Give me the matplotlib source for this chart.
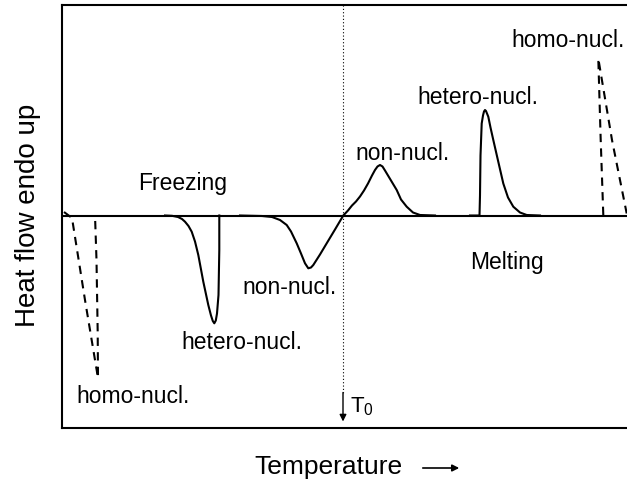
import matplotlib
matplotlib.use('Agg')
import matplotlib.pyplot as plt

plt.rcParams['font.family'] = ['Liberation Sans', 'DejaVu Sans']
plt.rcParams['mathtext.fontset'] = 'custom'
plt.rcParams['mathtext.rm'] = 'Liberation Sans'
plt.rcParams['mathtext.it'] = 'Liberation Sans'

# curves (temperature in arbitrary units, heat flow, endo up)
homo_freeze_t = [64, 72, 85, 98, 97.7, 96.5, 95]
homo_freeze_q = [3.5, -2.5, -84.5, -162.5, -117.5, -44.5, 0.5]

hetero_freeze_t = [165, 172, 178, 182, 185, 188.5, 191.7, 195, 198.3, 203.3, 208.3,
                   211, 212.8, 214.3, 215.8, 217, 218.5, 219.3, 219.3]
hetero_freeze_q = [0, -0.3, -1.5, -3.5, -6.2, -10.5, -16.2, -26, -39.5, -66.2, -89.5,
                   -100, -105.5, -107.8, -105, -98, -79.5, -34.5, 0]

non_t = [240, 262, 272, 280, 286.7, 291, 296.7, 301, 305, 308.3, 311, 313.3, 320, 326.7,
         335, 343.3, 348, 352, 356, 360, 364, 368, 372, 375, 377.5, 380, 382.5, 385,
         388, 391, 394, 396.7, 401, 406.7, 413, 420, 435]
non_q = [0, -0.5, -1.5, -4.5, -9.5, -16, -27.8, -38, -47.8, -52.8, -52, -49.5, -39, -27.8,
         -14, 0, 5, 10, 14, 19, 25, 32, 40, 45.5, 49, 50.5, 49, 45,
         40, 35, 30, 25.5, 16, 8.8, 3, 0.5, 0]

hetero_melt_t = [470, 479.5, 480, 480.5, 481.7, 483, 484, 485, 486, 487, 488.3, 490.5,
                 493.3, 498, 503.3, 508, 513.3, 520, 526.7, 540]
hetero_melt_q = [0, 0, 20, 60, 92, 100, 104, 105.5, 104.5, 102, 98.8, 88,
                 75.5, 55, 32, 18, 8.8, 3, 0.5, 0]

homo_melt_t = [603.3, 600.7, 598.3, 612, 626.7]
homo_melt_q = [0.5, 75.5, 157, 75.5, 2]

T0 = 343

fig = plt.figure(figsize=(6.27, 4.83), dpi=100)
ax = fig.add_axes([62 / 627, 55 / 483, 638 / 627, 423 / 483])
ax.set_xlim(62, 700)
ax.set_ylim(-212.5, 210.5)

lw = 1.5
ax.axhline(0, color='black', lw=lw)
ax.plot(homo_freeze_t, homo_freeze_q, color='black', lw=lw, ls=(0, (4, 3)))
ax.plot(hetero_freeze_t, hetero_freeze_q, color='black', lw=lw)
ax.plot(non_t, non_q, color='black', lw=lw)
ax.plot(hetero_melt_t, hetero_melt_q, color='black', lw=lw)
ax.plot(homo_melt_t, homo_melt_q, color='black', lw=lw, ls=(0, (4, 3)))

ax.plot([T0, T0], [210.5, -179], color='black', lw=0.8, ls=(0, (1, 2)))
ax.annotate('', xy=(T0, -206), xytext=(T0, -177),
            arrowprops=dict(arrowstyle='-|>', color='black', lw=1.0,
                            mutation_scale=10, shrinkA=0, shrinkB=0))
ax.text(350, -191, r'T$_\mathregular{0}$', fontsize=16, ha='left', va='center')

fs = 16.5
ax.text(183, 32, 'Freezing', fontsize=fs, ha='center', va='center')
ax.text(133, -181, 'homo-nucl.', fontsize=fs, ha='center', va='center')
ax.text(242, -127, 'hetero-nucl.', fontsize=fs, ha='center', va='center')
ax.text(290, -72, 'non-nucl.', fontsize=fs, ha='center', va='center')
ax.text(403, 62, 'non-nucl.', fontsize=fs, ha='center', va='center')
ax.text(478, 118, 'hetero-nucl.', fontsize=fs, ha='center', va='center')
ax.text(625, 175, 'homo-nucl.', fontsize=fs, ha='right', va='center')
ax.text(507, -47, 'Melting', fontsize=fs, ha='center', va='center')

for s in ['left', 'top', 'bottom']:
    ax.spines[s].set_linewidth(1.5)
ax.spines['right'].set_visible(False)
ax.set_xticks([])
ax.set_yticks([])

fig.text(28 / 627, 1 - 215 / 483, 'Heat flow endo up', rotation=90,
         fontsize=20, ha='center', va='center')
fig.text(328 / 627, 1 - 467 / 483, 'Temperature', fontsize=19,
         ha='center', va='center')
fig.add_artist(matplotlib.patches.FancyArrowPatch(
    (420 / 627, 1 - 468 / 483), (462 / 627, 1 - 468 / 483),
    transform=fig.transFigure, arrowstyle='-|>', mutation_scale=10,
    color='black', lw=1.2))

fig.savefig('out.png', dpi=100)
